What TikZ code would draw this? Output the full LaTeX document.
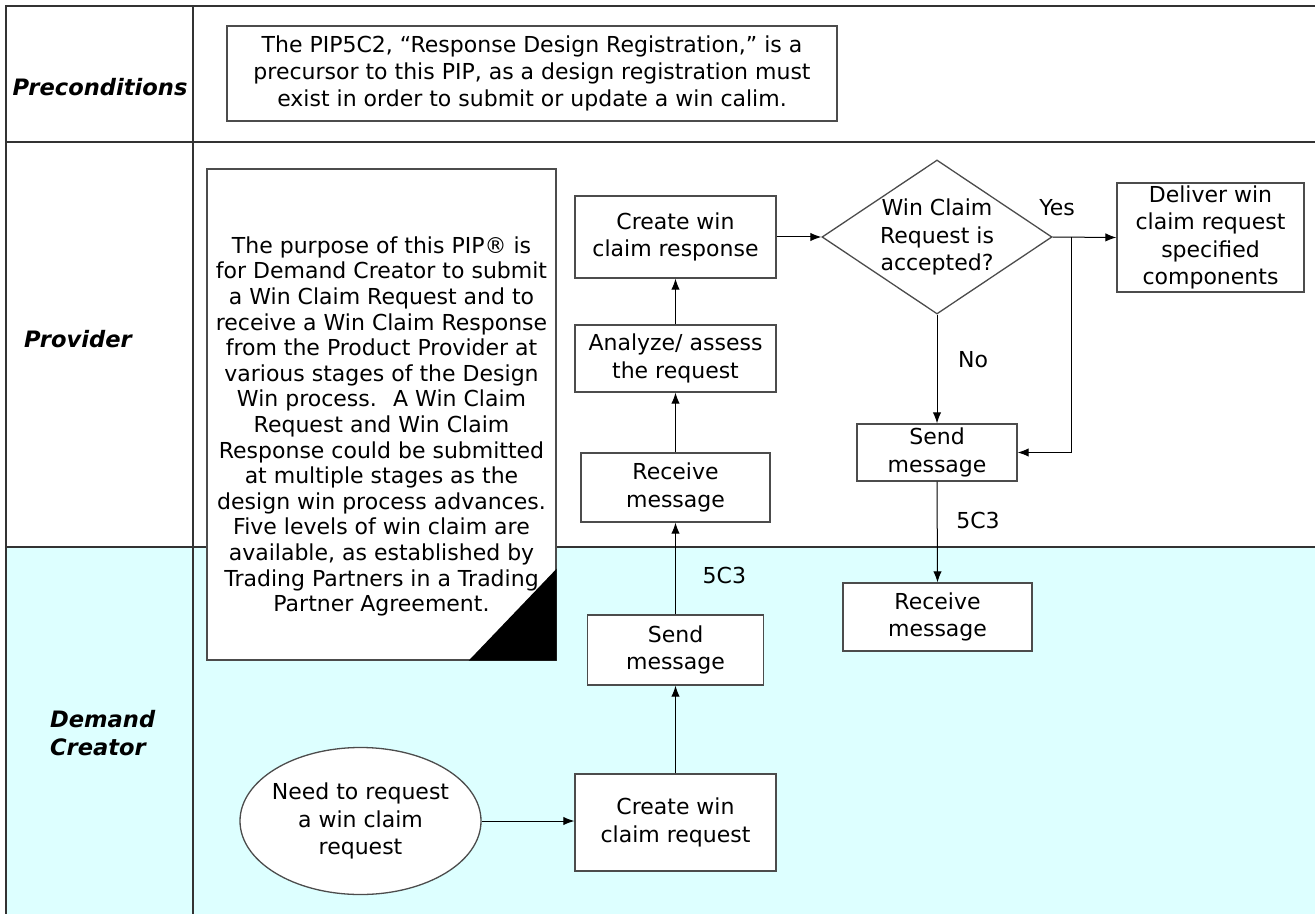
\documentclass[tikz,border=0pt]{standalone}
\usepackage{fontspec}
\setmainfont{DejaVu Sans}
\usepackage{xcolor}
\usepackage{tikz}
\usetikzlibrary{shapes, arrows, arrows.meta, positioning, calc, backgrounds}
\definecolor{laneblue}{RGB}{221,255,255}

\begin{document}
\begin{tikzpicture}[x=0.5pt, y=-0.5pt, font=\fontsize{11}{13.7}\selectfont,
    procbox/.style={draw=black!70, fill=white, line width=0.65pt, align=center, inner sep=0pt},
    flow/.style={-{Latex[length=5.5pt, width=4.2pt]}, black, line width=0.5pt},
    lanelabel/.style={font=\fontsize{11.3}{13.7}\selectfont\bfseries\itshape, align=left},
    edgelabel/.style={font=\fontsize{11}{13.7}\selectfont}]
    \useasboundingbox (0,0) rectangle (1315,914);

    % Swimlanes
    \fill[laneblue] (6,547) rectangle (1315,914);
    \draw[black!80, line width=0.7pt] (1315,6) -- (6,6) -- (6,914);
    \draw[black!80, line width=0.7pt] (193,6) -- (193,914);
    \draw[black!80, line width=0.7pt] (6,142) -- (1315,142);
    \draw[black!80, line width=0.7pt] (6,547) -- (1315,547);

    \node[lanelabel] (lpre) at (100,87) {Preconditions};
    \node[lanelabel, anchor=west] (lprov) at (17,339) {Provider};
    \node[lanelabel, anchor=west] (ldem) at (43,733) {Demand\\Creator};

    % Preconditions
    \node[procbox, minimum width=305pt, minimum height=47.5pt] (precond) at (532,73.5)
        {The PIP5C2, “Response Design Registration,” is a\\
         precursor to this PIP, as a design registration must\\
         exist in order to submit or update a win calim.};

    % Purpose note
    \node[procbox, minimum width=174.5pt, minimum height=245.5pt] (purpose) at (381.5,414.5) {};
    \fill[black] (purpose.south east) -- ++(-88,0) -- ++(88,-92) -- cycle;
    \node[align=center, font=\fontsize{11}{12.8}\selectfont] (purposetext) at (381.5,426.5)
        {The purpose of this PIP® is\\
         for Demand Creator to submit\\
         a Win Claim Request and to\\
         receive a Win Claim Response\\
         from the Product Provider at\\
         various stages of the Design\\
         Win process.~ A Win Claim\\
         Request and Win Claim\\
         Response could be submitted\\
         at multiple stages as the\\
         design win process advances.\\
         Five levels of win claim are\\
         available, as established by\\
         Trading Partners in a Trading\\
         Partner Agreement.};

    % Demand Creator steps
    \node[procbox, ellipse, inner sep=-3pt, minimum width=120.5pt, minimum height=73.5pt] (need) at (360.5,821)
        {Need to request\\a win claim\\request};
    \node[procbox, minimum width=100.5pt, minimum height=48.5pt] (createreq) at (675.5,822.5)
        {Create win\\claim request};
    \node[procbox, minimum width=88pt, minimum height=35pt] (senddc) at (675.5,650)
        {Send\\message};
    \node[procbox, minimum width=94.5pt, minimum height=34pt] (recvdc) at (937.5,617)
        {Receive\\message};

    % Provider steps
    \node[procbox, minimum width=94.5pt, minimum height=34.5pt] (recvp) at (675.5,487.5)
        {Receive\\message};
    \node[procbox, minimum width=100.5pt, minimum height=33.5pt] (analyze) at (675.5,358.5)
        {Analyze/ assess\\the request};
    \node[procbox, minimum width=100.5pt, minimum height=41pt] (createresp) at (675.5,237)
        {Create win\\claim response};
    \node[procbox, diamond, aspect=1.5, inner sep=-3pt, minimum width=115pt, minimum height=77pt] (dec) at (937,237)
        {Win Claim\\Request is\\accepted?};
    \node[procbox, minimum width=93.5pt, minimum height=54.5pt] (deliver) at (1210.5,237.5)
        {Deliver win\\claim request\\specified\\components};
    \node[procbox, minimum width=80pt, minimum height=28.5pt] (sendprov) at (937,452.5)
        {Send\\message};
    \coordinate (yesjoint) at (1071,237);

    % Flows
    \draw[flow] (need.east) -- (need.east -| createreq.west);
    \draw[flow] (createreq.north) -- (senddc.south);
    \draw[flow] (senddc.north) -- (recvp.south)
        node[edgelabel, pos=0.42, right=10pt] (lblsend) {5C3};
    \draw[flow] (recvp.north) -- (analyze.south);
    \draw[flow] (analyze.north) -- (createresp.south);
    \draw[flow] (createresp.east) -- (dec.west);
    \draw[flow] (dec.east) -- (deliver.west);
    \node[edgelabel, fill=white, inner sep=2pt] (lblyes) at (1057,208) {Yes};
    \draw[flow] (yesjoint) |- (sendprov.east);
    \draw[flow] (dec.south) -- (sendprov.north)
        node[edgelabel, pos=0.41, right=7pt] (lblno) {No};
    \draw[flow] (sendprov.south) -- (recvdc.north)
        node[edgelabel, pos=0.39, right=6pt] (lblreply) {5C3};
\end{tikzpicture}
\end{document}
